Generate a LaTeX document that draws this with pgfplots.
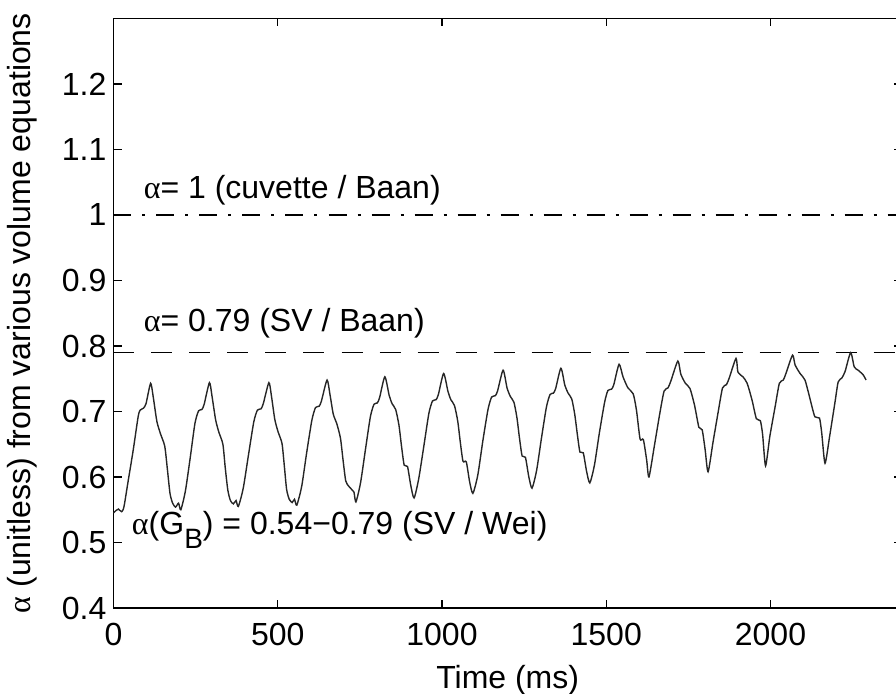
\documentclass[border=0pt]{standalone}
\usepackage{pgfplots}
\usepackage{pgfplotstable}
\pgfplotsset{compat=1.18}
\usepackage{fontspec}
\setmainfont{Liberation Sans}
\newfontfamily\grkfont{Liberation Serif}
\newcommand{\al}{{\grkfont α}}

% alpha(G_B) over time
\pgfplotstableread{
t a
0 0.545
8 0.549
15 0.551
25 0.547
32 0.555
45 0.595
60 0.641
75 0.692
81 0.702
91 0.705
99 0.712
113 0.743
121 0.722
132 0.685
143 0.666
156 0.647
164 0.612
172 0.575
180 0.560
189 0.554
198 0.560
205 0.550
219 0.579
234 0.631
248 0.682
259 0.701
269 0.703
276 0.711
292 0.744
300 0.723
311 0.687
321 0.668
333 0.650
340 0.615
348 0.580
356 0.564
365 0.559
373 0.564
380 0.555
395 0.583
411 0.634
427 0.684
438 0.702
449 0.704
456 0.712
473 0.744
481 0.723
491 0.688
501 0.669
513 0.651
520 0.617
527 0.581
535 0.566
544 0.561
551 0.566
558 0.557
573 0.586
588 0.637
604 0.687
615 0.706
626 0.708
633 0.716
650 0.748
659 0.726
669 0.696
680 0.681
691 0.659
699 0.625
707 0.594
716 0.586
725 0.581
732 0.577
738 0.562
752 0.591
767 0.642
782 0.692
793 0.711
803 0.713
810 0.721
826 0.753
839 0.725
848 0.712
859 0.703
869 0.679
877 0.646
885 0.618
895 0.616
905 0.587
915 0.568
929 0.597
945 0.648
960 0.697
971 0.716
982 0.718
989 0.726
1005 0.758
1018 0.731
1027 0.718
1038 0.709
1048 0.685
1056 0.652
1064 0.624
1074 0.623
1084 0.593
1094 0.575
1109 0.603
1124 0.654
1140 0.703
1151 0.722
1162 0.724
1169 0.731
1186 0.763
1198 0.736
1208 0.723
1219 0.714
1228 0.691
1236 0.659
1244 0.632
1254 0.630
1264 0.601
1274 0.583
1288 0.610
1303 0.660
1318 0.707
1329 0.726
1339 0.728
1346 0.735
1362 0.766
1374 0.740
1384 0.728
1395 0.719
1404 0.696
1412 0.665
1420 0.638
1430 0.637
1440 0.609
1450 0.591
1464 0.618
1479 0.667
1495 0.714
1505 0.732
1516 0.734
1523 0.741
1539 0.772
1551 0.753
1566 0.736
1582 0.727
1592 0.702
1603 0.658
1613 0.657
1623 0.626
1630 0.600
1646 0.646
1662 0.694
1676 0.731
1688 0.736
1697 0.747
1718 0.777
1727 0.757
1741 0.743
1755 0.735
1769 0.709
1782 0.676
1792 0.672
1801 0.642
1810 0.608
1825 0.653
1841 0.700
1854 0.736
1866 0.741
1875 0.752
1895 0.781
1901 0.760
1916 0.753
1929 0.743
1944 0.717
1957 0.689
1969 0.686
1976 0.665
1985 0.617
1998 0.662
2014 0.707
2027 0.743
2039 0.748
2047 0.758
2067 0.786
2075 0.771
2090 0.758
2105 0.748
2120 0.720
2135 0.692
2149 0.690
2156 0.667
2166 0.621
2180 0.662
2196 0.713
2206 0.745
2217 0.751
2227 0.761
2244 0.790
2255 0.768
2267 0.763
2282 0.756
2291 0.748
}\gbdata

\begin{document}
\begin{tikzpicture}[font=\fontsize{16}{19}\selectfont]
  % the original figure is cut off just before the right border
  \useasboundingbox (-56.75pt,-43pt) rectangle (391.25pt,304pt);
  \clip (-56.75pt,-43pt) rectangle (391.25pt,304pt);
  \begin{axis}[
    scale only axis,
    width=394.2pt, height=294.75pt,
    xmin=0, xmax=2400,
    ymin=0.4, ymax=1.3,
    xtick={0,500,1000,1500,2000},
    ytick={0.4,0.5,0.6,0.7,0.8,0.9,1,1.1,1.2},
    tick align=inside,
    major tick length=4pt,
    axis line style={line width=0.7pt},
    every tick/.style={black, line width=0.7pt},
    xticklabel style={yshift=-4pt},
    /pgf/number format/assume math mode=true,
    /pgf/number format/1000 sep={},
    xlabel={Time (ms)},
    ylabel={\al\ (unitless) from various volume equations},
    xlabel style={at={(axis description cs:0.5,-0.122)}, anchor=center},
    ylabel style={at={(axis description cs:-0.1161,0.5)}, anchor=center},
  ]
    \addplot[black, line width=0.7pt, dash pattern=on 9pt off 5.5pt on 1.5pt off 5.5pt]
      coordinates {(0,1) (2400,1)};
    \addplot[black, line width=0.7pt, dash pattern=on 10.5pt off 8.5pt]
      coordinates {(0,0.79) (2400,0.79)};
    \addplot[black!85, line width=0.7pt, smooth, tension=0.4] table[x=t, y=a] {\gbdata};

    \node[anchor=base west, inner sep=0pt] at (axis cs:91,1.0255) {\al= 1 (cuvette / Baan)};
    \node[anchor=base west, inner sep=0pt] at (axis cs:91,0.8218) {\al= 0.79 (SV / Baan)};
    \node[anchor=base west, inner sep=0pt] at (axis cs:55,0.5115)
      {\al(G\raisebox{-7pt}{\fontsize{14}{14}\selectfont B}) = 0.54−0.79 (SV / Wei)};
  \end{axis}
\end{tikzpicture}
\end{document}
